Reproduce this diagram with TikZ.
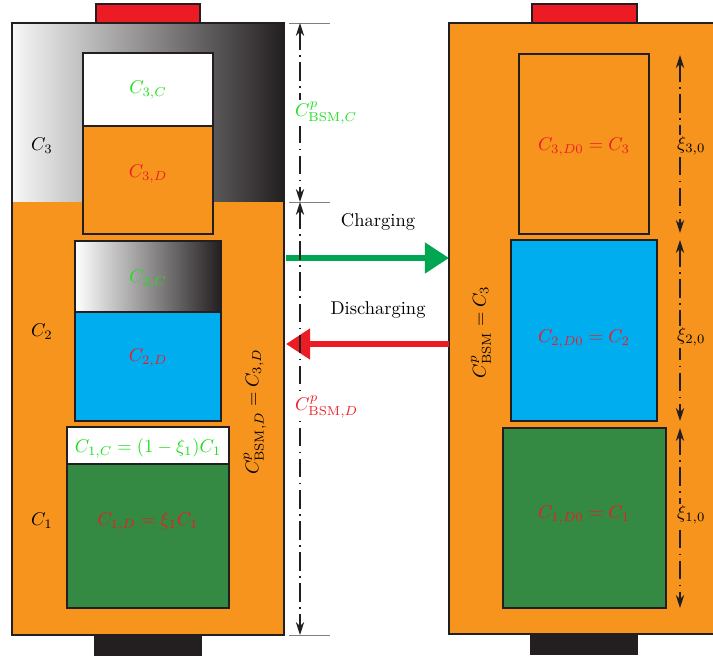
\documentclass[tikz,border=0pt]{standalone}
\usetikzlibrary{arrows.meta}
\definecolor{cellorange}{HTML}{F7941E}
\definecolor{cellblue}{HTML}{00AEEF}
\definecolor{cellgreen}{HTML}{348A43}
\definecolor{termred}{HTML}{ED1C24}
\definecolor{dark}{HTML}{231F20}
\definecolor{muted}{HTML}{7F7F7F}
\definecolor{txtgreen}{HTML}{1EE01E}
\definecolor{txtred}{HTML}{ED1C24}
\definecolor{flowgreen}{HTML}{00A651}
\tikzset{>=Stealth,
  every node/.style={font=\normalsize},
  cell/.style={draw=dark,line width=1.5pt},
  fade/.style={left color=black!3,right color=dark},
  tick/.style={draw=muted,line width=.5pt},
  dim/.style={{Stealth[length=7pt,width=4.5pt]}-{Stealth[length=7pt,width=4.5pt]},draw=dark,line width=.55pt,
    dash pattern=on 10pt off 3pt on .8pt off 3pt},
  flow/.style={line width=3.2pt,-{Triangle[length=13pt,width=16pt]}},
  dimlabel/.style={anchor=west,fill=white,inner sep=1pt},
  xilabel/.style={anchor=west,fill=cellorange,inner sep=1pt}}

\begin{document}
\begin{tikzpicture}[x=0.019cm,y=-0.019cm]
\useasboundingbox (0,0) rectangle (713,657);
% left battery (partly charged)
\fill[fade] (12,23) rectangle (284,202);
\fill[cellorange] (12,202) rectangle (284,635);
\draw[cell] (12,23) rectangle (284,635);
\draw[cell,fill=termred] (96,4) rectangle (200,23);
\draw[cell,fill=dark] (95,635) rectangle (201,655);
\draw[cell,fill=white] (83,53) rectangle (213,126);
\draw[cell,fill=cellorange] (83,126) rectangle (213,234);
\draw[cell,left color=white,right color=dark] (75,241) rectangle (221,312);
\draw[cell,fill=cellblue] (75,312) rectangle (221,421);
\draw[cell,fill=white] (67,427) rectangle (229,464);
\draw[cell,fill=cellgreen] (67,464) rectangle (229,608);
\node (c3) at (42,146) {$C_3$};
\node (c2) at (42,332) {$C_2$};
\node (c1) at (42,521) {$C_1$};
\node[text=txtgreen] (c3c) at (148,90) {$C_{3,C}$};
\node[text=txtred] (c3d) at (148,174) {$C_{3,D}$};
\node[text=txtgreen] (c2c) at (148,279) {$C_{2,C}$};
\node[text=txtred] (c2d) at (148,358) {$C_{2,D}$};
\node[text=txtgreen] (c1c) at (148,448) {$C_{1,C}=(1-\xi_1)C_1$};
\node[text=txtred] (c1d) at (148,522) {$C_{1,D}=\xi_1C_1$};
\node[rotate=90] (bsmleft) at (255,412) {$C^p_{\mathrm{BSM},D}=C_{3,D}$};
% right battery (fully discharged)
\draw[cell,fill=cellorange] (449,23) rectangle (722,634);
\draw[cell,fill=termred] (532,4) rectangle (637,23);
\draw[cell,fill=dark] (531,634) rectangle (637,654);
\draw[cell,fill=cellorange] (519,54) rectangle (649,234);
\draw[cell,fill=cellblue] (511,240) rectangle (657,421);
\draw[cell,fill=cellgreen] (503,428) rectangle (666,608);
\node[text=txtred] (c3d0) at (584,147) {$C_{3,D0}=C_3$};
\node[text=txtred] (c2d0) at (584,339) {$C_{2,D0}=C_2$};
\node[text=txtred] (c1d0) at (584,515) {$C_{1,D0}=C_1$};
\node[rotate=90] (bsmright) at (481,332) {$C^p_{\mathrm{BSM}}=C_3$};
\foreach \ya/\yb/\ym/\k in {55/233/146/3,240/421/337/2,428/608/515/1} {
  \coordinate (xa\k) at (680,\ya); \coordinate (xb\k) at (680,\yb);
  \draw[dim] (xa\k) -- (xb\k);
  \node[xilabel] (xi\k) at (675,\ym) {$\xi_{\k,0}$};}
% charge / discharge
\coordinate (chgA) at (286,258); \coordinate (chgB) at (449,258);
\coordinate (disA) at (449,344); \coordinate (disB) at (286,344);
\draw[flow,flowgreen] (chgA) -- (chgB);
\draw[flow,termred] (disA) -- (disB);
\node (chg) at (378,222) {Charging};
\node (dis) at (378,310) {Discharging};
% dimensions
\foreach \y in {23,202,635} \draw[tick] (289,\y) -- (330,\y);
\coordinate (dtop) at (300,23); \coordinate (dmid) at (300,202); \coordinate (dbot) at (300,635);
\draw[dim] (dtop) -- (dmid);
\draw[dim] (dmid) -- (dbot);
\node[dimlabel,text=txtgreen] (bsmc) at (293,113) {$C^p_{\mathrm{BSM},C}$};
\node[dimlabel,text=txtred] (bsmd) at (293,407) {$C^p_{\mathrm{BSM},D}$};
\end{tikzpicture}
\end{document}
